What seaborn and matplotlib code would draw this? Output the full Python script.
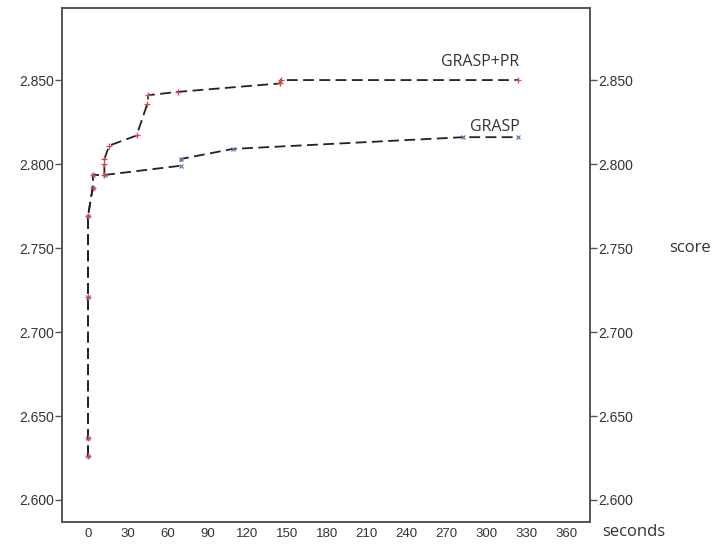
import matplotlib
matplotlib.use("Agg")
import matplotlib.pyplot as plt
import seaborn as sns

# values
grasp_pr_seconds = [0, 0, 0, 0, 3.5, 4, 12.3, 12.3, 12.3, 16, 36.6, 44.7, 45.4, 68, 144.6, 145, 324]
grasp_pr_score = [2.626, 2.637, 2.721, 2.769, 2.786, 2.7935, 2.7935, 2.800, 2.803, 2.811,
                  2.817, 2.836, 2.841, 2.843, 2.848, 2.850, 2.850]

grasp_seconds = [0, 0, 0, 0, 3.5, 4, 12.5, 69.8, 69.8, 109, 282.6, 324]
grasp_score = [2.626, 2.637, 2.721, 2.769, 2.786, 2.7935, 2.7935, 2.799, 2.803, 2.809, 2.816, 2.816]

x_ticks = list(range(0, 361, 30))
y_ticks = [2.600, 2.650, 2.700, 2.750, 2.800, 2.850]

sns.set_style("white")
plt.rcParams["font.family"] = ["Liberation Sans", "DejaVu Sans"]

fig = plt.figure(figsize=(7.13, 5.47), dpi=100)
ax = fig.add_axes([62 / 713, 25 / 547, 528 / 713, 514 / 547])

dash = (0, (6, 3))
sns.lineplot(x=grasp_seconds, y=grasp_score, sort=False, estimator=None, ax=ax,
             color="#222222", linewidth=1.3, linestyle=dash,
             marker="x", markersize=3.5, markeredgecolor="#5a7cc0", markeredgewidth=0.9)
sns.lineplot(x=grasp_pr_seconds, y=grasp_pr_score, sort=False, estimator=None, ax=ax,
             color="#222222", linewidth=1.3, linestyle=dash,
             marker="+", markersize=5, markeredgecolor="#e04050", markeredgewidth=0.9)

ax.set_xlim(-19.6, 378)
ax.set_ylim(2.5869, 2.8929)
ax.set_xticks(x_ticks)
ax.set_yticks(y_ticks)
ax.set_yticklabels([f"{v:.3f}" for v in y_ticks])

ax2 = ax.twinx()
ax2.set_ylim(ax.get_ylim())
ax2.set_yticks(y_ticks)
ax2.set_yticklabels([f"{v:.3f}" for v in y_ticks])

for a in (ax, ax2):
    for s in a.spines.values():
        s.set_color("#555555")
        s.set_linewidth(1.2)
    a.tick_params(length=5, width=1, color="#555555", labelsize=10, labelcolor="#333333", pad=1)
ax.tick_params(axis="x", length=4, pad=0.5, labelsize=9.5)
ax.tick_params(axis="y", left=True)
ax2.tick_params(axis="y", right=True)

txt = dict(family=["Open Sans", "DejaVu Sans"], color="#333333")
ax.text(325, 2.8607, "GRASP+PR", ha="right", va="center", fontsize=11.5, **txt)
ax.text(325, 2.8220, "GRASP", ha="right", va="center", fontsize=11.5, **txt)
fig.text(634 / 713, 1 - 532 / 547, "seconds", ha="center", va="center", fontsize=12, **txt)
fig.text(690 / 713, 1 - 248 / 547, "score", ha="center", va="center", fontsize=12, **txt)

fig.savefig("out.png", dpi=100)
